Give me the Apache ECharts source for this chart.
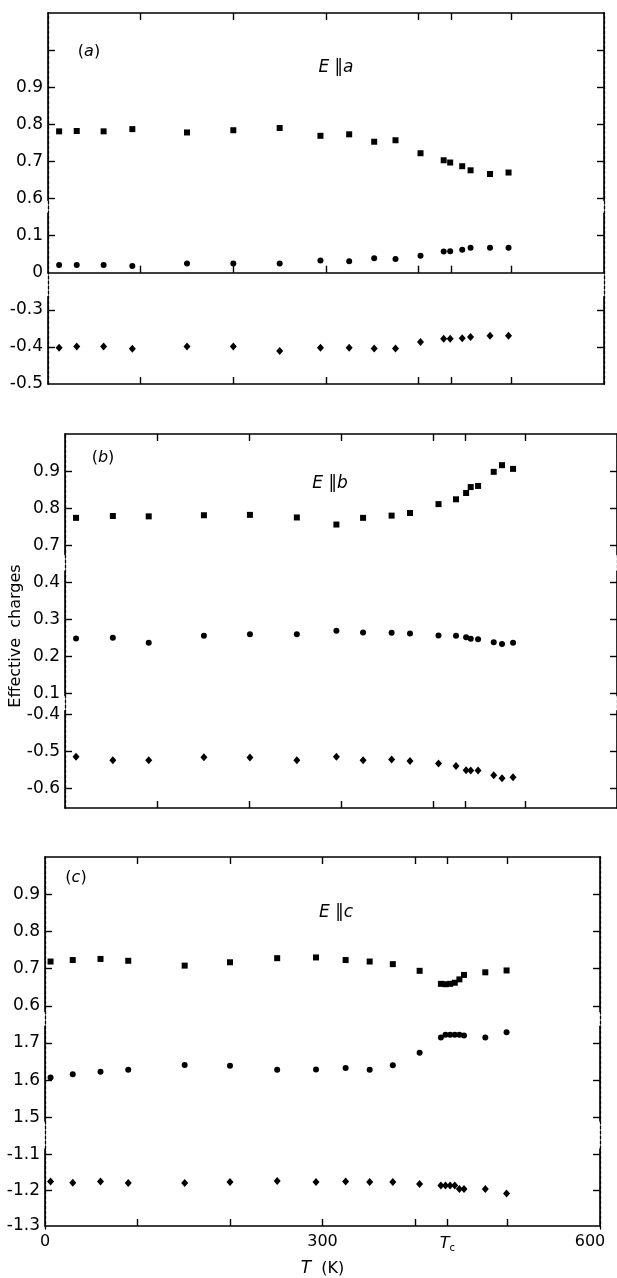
<!DOCTYPE html>
<html>
<head>
<meta charset="utf-8">
<script src="https://cdn.jsdelivr.net/npm/echarts@6/dist/echarts.min.js"></script>
<style>
html, body { margin: 0; padding: 0; background: #fff; }
#chart { width: 617px; height: 1278px; }
</style>
</head>
<body>
<div id="chart"></div>
<script>
// temperatures (K) and effective charges
var tempsA = [12, 31, 60, 91, 150, 200, 250, 294, 325, 352, 375, 402, 427, 434, 447, 456, 477, 497];
var squaresA = [0.781, 0.782, 0.781, 0.787, 0.778, 0.784, 0.790, 0.769, 0.773, 0.753, 0.757, 0.722, 0.703, 0.697, 0.687, 0.676, 0.666, 0.670];
var circlesA = [0.021, 0.021, 0.021, 0.018, 0.025, 0.025, 0.025, 0.033, 0.031, 0.039, 0.037, 0.046, 0.057, 0.058, 0.062, 0.067, 0.067, 0.067];
var diamondsA = [-0.402, -0.399, -0.399, -0.405, -0.399, -0.399, -0.411, -0.402, -0.402, -0.404, -0.404, -0.387, -0.378, -0.378, -0.377, -0.373, -0.370, -0.370];

var tempsB = [12, 52, 91, 151, 201, 252, 295, 324, 355, 375, 406, 425, 436, 441, 449, 466, 475, 487];
var squaresB = [0.774, 0.779, 0.778, 0.781, 0.782, 0.775, 0.756, 0.774, 0.780, 0.787, 0.811, 0.824, 0.841, 0.857, 0.860, 0.898, 0.916, 0.906];
var circlesB = [0.249, 0.251, 0.237, 0.256, 0.260, 0.260, 0.270, 0.265, 0.264, 0.262, 0.257, 0.256, 0.252, 0.248, 0.247, 0.239, 0.234, 0.237];
var diamondsB = [-0.514, -0.523, -0.523, -0.515, -0.516, -0.523, -0.514, -0.523, -0.521, -0.525, -0.532, -0.539, -0.550, -0.551, -0.551, -0.564, -0.572, -0.569];

var tempsC = [6, 30, 60, 90, 151, 200, 251, 293, 325, 351, 376, 405, 428, 433, 438, 443, 448, 453, 476, 499];
var squaresC = [0.719, 0.723, 0.726, 0.721, 0.708, 0.717, 0.728, 0.730, 0.723, 0.719, 0.712, 0.694, 0.659, 0.658, 0.659, 0.662, 0.671, 0.683, 0.690, 0.695];
var circlesC = [1.607, 1.616, 1.623, 1.628, 1.641, 1.639, 1.628, 1.629, 1.633, 1.628, 1.640, 1.674, 1.715, 1.722, 1.722, 1.722, 1.722, 1.720, 1.715, 1.729];
var diamondsC = [-1.176, -1.179, -1.176, -1.180, -1.180, -1.177, -1.174, -1.177, -1.176, -1.177, -1.177, -1.183, -1.187, -1.187, -1.187, -1.187, -1.197, -1.197, -1.197, -1.209];

// tick marks and labels of the broken y axes, one list per piece
var ticksA1 = [1.0, 0.9, 0.8, 0.7, 0.6], labelsA1 = [0.9, 0.8, 0.7, 0.6];
var ticksA2 = [0.1], labelsA2 = [0.1, 0];
var ticksA3 = [-0.3, -0.4], labelsA3 = [-0.3, -0.4, -0.5];
var ticksB1 = [0.9, 0.8, 0.7];
var ticksB2 = [0.4, 0.3, 0.2, 0.1];
var ticksB3 = [-0.4, -0.5, -0.6];
var ticksC1 = [0.9, 0.8, 0.7, 0.6];
var ticksC2 = [1.7, 1.6, 1.5];
var ticksC3 = [-1.1, -1.2], labelsC3 = [-1.1, -1.2, -1.3];

var TC = 435;
var xTicks = [100, 200, 300, 400, TC, 500];
var xLabels = [0, 300, TC, 600];

var ink = '#000';
var fam = 'DejaVu Sans';

var grids = [], xAxes = [], yAxes = [], series = [];

function fmt(v) { return v === 0 ? '0' : v.toFixed(1); }

// dashed outline behind each panel, visible where the axis is broken
function frame(p) {
    var g = grids.length;
    grids.push({left: p.left, right: p.right, top: p.top, height: p.bottom - p.top});
    xAxes.push({gridIndex: g, type: 'value', min: 0, max: 600, show: false});
    ['left', 'right'].forEach(function (pos) {
        yAxes.push({
            gridIndex: g, type: 'value', min: 0, max: 1, position: pos, z: 1,
            axisLine: {show: true, onZero: false, lineStyle: {color: ink, width: 1.3, type: [3, 2]}},
            axisTick: {show: false}, axisLabel: {show: false}, splitLine: {show: false}
        });
    });
}

function xEdge(g, pos, withLabels) {
    var ax = {
        gridIndex: g, type: 'value', min: 0, max: 600, position: pos, z: 3,
        axisLine: {show: true, onZero: false, lineStyle: {color: ink, width: 1.6}},
        axisTick: {show: true, inside: true, length: 7, customValues: xTicks, lineStyle: {color: ink, width: 1.4}},
        axisLabel: {show: false},
        splitLine: {show: false}
    };
    if (withLabels) {
        ax.axisLabel = {
            show: true, customValues: xLabels, margin: 8, color: ink, fontFamily: fam, fontSize: 16,
            formatter: function (v) {
                if (v === TC) return '{t|T}{c|c}';
                if (v === 600) return '{r|600}';
                return String(v);
            },
            rich: {
                t: {fontFamily: fam, fontSize: 16, fontStyle: 'italic', color: ink},
                c: {fontFamily: fam, fontSize: 10, color: ink, padding: [9, 0, 0, 0]},
                r: {fontFamily: fam, fontSize: 16, color: ink, padding: [0, 20, 0, 0]}
            }
        };
        ax.name = '{i|T}  (K)';
        ax.nameLocation = 'middle';
        ax.nameGap = 34;
        ax.nameTextStyle = {
            fontFamily: fam, fontSize: 16, color: ink,
            rich: {i: {fontFamily: fam, fontSize: 17, fontStyle: 'italic', color: ink}}
        };
    }
    return ax;
}

function yEdge(g, s, pos) {
    return {
        gridIndex: g, type: 'value', min: s.lo, max: s.hi, position: pos, z: 3,
        axisLine: {show: true, onZero: false, lineStyle: {color: ink, width: 1.6}},
        axisTick: {show: true, inside: true, length: 7, customValues: s.ticks, lineStyle: {color: ink, width: 1.4}},
        axisLabel: pos === 'left' ? {
            show: true, customValues: s.labels || s.ticks, margin: 5,
            color: ink, fontFamily: fam, fontSize: 17, formatter: fmt
        } : {show: false},
        splitLine: {show: false}
    };
}

function segment(p, s) {
    var g = grids.length;
    grids.push({
        left: p.left, right: p.right,
        top: s.at - (s.hi - s.anchor) * p.k,
        height: (s.hi - s.lo) * p.k
    });
    var xi = xAxes.length;
    if (s.edge) {
        xAxes.push(xEdge(g, s.edge, s.xlab));
    } else {
        xAxes.push({gridIndex: g, type: 'value', min: 0, max: 600, show: false});
    }
    var yi = yAxes.length;
    yAxes.push(yEdge(g, s, 'left'));
    yAxes.push(yEdge(g, s, 'right'));
    series.push({
        type: 'scatter', xAxisIndex: xi, yAxisIndex: yi,
        symbol: s.symbol, symbolSize: s.size, silent: true, z: 5,
        itemStyle: {color: ink, opacity: 1},
        data: p.temps.map(function (t, i) { return [t, s.values[i]]; })
    });
}

var panels = [
    {left: 48, right: 13, top: 13, bottom: 384, k: 371, temps: tempsA, segs: [
        {lo: 0.595, hi: 1.1, anchor: 1.1, at: 13, ticks: ticksA1, labels: labelsA1, edge: 'top', values: squaresA, symbol: 'rect', size: 6},
        {lo: 0, hi: 0.16, anchor: 0, at: 272.7, ticks: ticksA2, labels: labelsA2, edge: 'bottom', values: circlesA, symbol: 'circle', size: 6},
        {lo: -0.5, hi: -0.265, anchor: -0.5, at: 384, ticks: ticksA3, labels: labelsA3, edge: 'bottom', values: diamondsA, symbol: 'diamond', size: [7, 8]}
    ]},
    {left: 65, right: -2, top: 434, bottom: 808, k: 371, temps: tempsB, segs: [
        {lo: 0.675, hi: 1.0, anchor: 1.0, at: 434, ticks: ticksB1, edge: 'top', values: squaresB, symbol: 'rect', size: 6},
        {lo: 0.095, hi: 0.43, anchor: 0.4, at: 582.4, ticks: ticksB2, values: circlesB, symbol: 'circle', size: 6},
        {lo: -0.652, hi: -0.39, anchor: -0.6, at: 788.7, ticks: ticksB3, edge: 'bottom', values: diamondsB, symbol: 'diamond', size: [7, 8]}
    ]},
    {left: 45, right: 17, top: 857, bottom: 1229, k: 372, temps: tempsC, segs: [
        {lo: 0.585, hi: 1.0, anchor: 1.0, at: 857, ticks: ticksC1, edge: 'top', values: squaresC, symbol: 'rect', size: 6},
        {lo: 1.49, hi: 1.745, anchor: 1.7, at: 1043, ticks: ticksC2, values: circlesC, symbol: 'circle', size: 6},
        {lo: -1.3, hi: -1.085, anchor: -1.3, at: 1229, ticks: ticksC3, labels: labelsC3, edge: 'bottom', xlab: true, values: diamondsC, symbol: 'diamond', size: [7, 8]}
    ]}
];

panels.forEach(function (p) {
    frame(p);
    p.segs.forEach(function (s) { segment(p, s); });
});

function label(x, y, text, size) {
    return {
        type: 'text', x: x, y: y, z: 10,
        style: {
            text: text, fill: ink, align: 'center', verticalAlign: 'middle',
            font: size + 'px "' + fam + '"',
            rich: {
                i: {fontFamily: fam, fontSize: size, fontStyle: 'italic', fill: ink},
                n: {fontFamily: fam, fontSize: size, fill: ink}
            }
        }
    };
}

var texts = [
    label(89, 52, '{n|(}{i|a}{n|)}', 16),
    label(336, 68, '{i|E} {n|\u2016}{i|a}', 17),
    label(103, 458, '{n|(}{i|b}{n|)}', 16),
    label(330, 484, '{i|E} {n|\u2016}{i|b}', 17),
    label(76, 878, '{n|(}{i|c}{n|)}', 16),
    label(336, 913, '{i|E} {n|\u2016}{i|c}', 17),
    {
        type: 'text', x: 16, y: 636, rotation: Math.PI / 2, z: 10,
        style: {text: 'Effective  charges', fill: ink, align: 'center', verticalAlign: 'middle', font: '16px "' + fam + '"'}
    }
];

var chart = echarts.init(document.getElementById('chart'));
chart.setOption({
    animation: false,
    backgroundColor: '#fff',
    grid: grids,
    xAxis: xAxes,
    yAxis: yAxes,
    series: series,
    graphic: texts
});
</script>
</body>
</html>
